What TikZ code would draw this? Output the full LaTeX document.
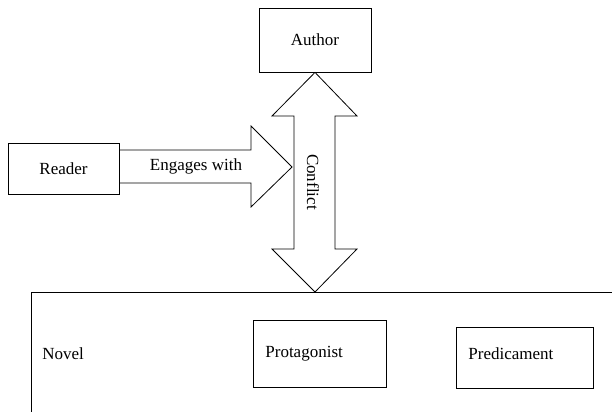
\documentclass[tikz,border=0pt]{standalone}
\usepackage{fontspec}
\setmainfont{Liberation Serif}
\usetikzlibrary{positioning}

\begin{document}
\begin{tikzpicture}[x=1pt, y=-1pt, line width=0.8pt,
	every node/.style={font=\fontsize{17}{20}\selectfont},
	box/.style={draw, rectangle, inner sep=0pt},
	lefttext/.style={anchor=west, inner sep=0pt}]
	\useasboundingbox (0,0) rectangle (612,412);
	% top and left boxes
	\node[box, minimum width=112pt, minimum height=64pt] (author) at (315,40) {Author};
	\node[box, minimum width=111pt, minimum height=51pt] (reader) at (63.5,168.5) {Reader};
	% the novel frame, open to the right and below
	\coordinate (novelTL) at (31,292);
	\draw (novelTL) -- (612,292);
	\draw (novelTL) -- (31,412);
	\node[lefttext] (novel) at (42,354) {Novel};
	\node[box, minimum width=133pt, minimum height=67pt] (protag) at (320,353.5) {};
	\node[lefttext] (protagtext) at (265,354) {Protagonist};
	\node[box, minimum width=137pt, minimum height=61pt] (predic) at (525,357.5) {};
	\node[lefttext] (predictext) at (468,354) {Predicament};
	% double arrow between author and novel
	\coordinate (ctop) at (author.south);
	\coordinate (cbot) at (315,292);
	\draw (ctop) -- (357,116) -- (335,116) -- (335,249) -- (357,249) -- (cbot)
		-- (272,249) -- (294,249) -- (294,116) -- (272,116) -- cycle;
	\node[rotate=-90] (conflict) at (313,182) {Conflict};
	% block arrow from the reader
	\draw (reader.east |- 0,150) -- (251,150) -- (251,126) -- (292,167) -- (251,207)
		-- (251,183) -- (reader.east |- 0,183);
	\node (engages) at (196,166) {Engages with};
\end{tikzpicture}
\end{document}
